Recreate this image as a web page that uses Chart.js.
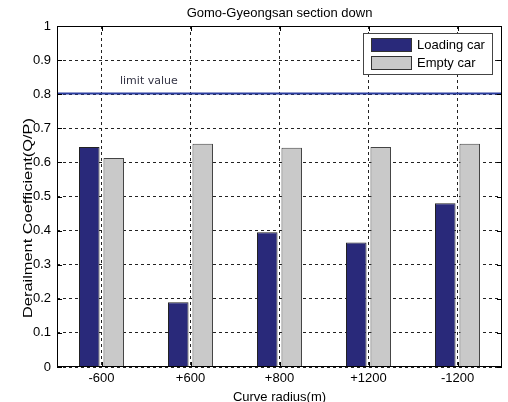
<!DOCTYPE html>
<html>
<head>
<meta charset="utf-8">
<script src="https://cdn.jsdelivr.net/npm/chart.js@4/dist/chart.umd.min.js"></script>
<style>
  html, body { margin: 0; padding: 0; background: #fff; }
  #wrap { width: 508px; height: 402px; }
</style>
</head>
<body>
<div id="wrap"><canvas id="c" width="508" height="402"></canvas></div>
<script>
// Derailment coefficient per curve radius, Gomo-Gyeongsan section (down line)
const categories = ['-600', '+600', '+800', '+1200', '-1200'];
const loadingCar = [0.645, 0.19, 0.395, 0.365, 0.48];
const emptyCar = [0.613, 0.655, 0.643, 0.645, 0.655];
const yTickValues = [0, 0.1, 0.2, 0.3, 0.4, 0.5, 0.6, 0.7, 0.8, 0.9, 1];
const yTickLabels = ['0', '0.1', '0.2', '0.3', '0.4', '0.5', '0.6', '0.7', '0.8', '0.9', '1'];
const LIMIT = 0.8;

const FONT = 'Liberation Sans, Arial, sans-serif';

const decorations = {
  id: 'decorations',
  afterDatasetsDraw(chart) {
    const { ctx, chartArea: a, scales: { x, y } } = chart;
    ctx.save();

    // limit line
    const ly = Math.round(y.getPixelForValue(LIMIT)) - 0.5;
    ctx.strokeStyle = '#2b3da0';
    ctx.lineWidth = 2;
    ctx.beginPath();
    ctx.moveTo(a.left, ly);
    ctx.lineTo(a.right, ly);
    ctx.stroke();
    ctx.fillStyle = '#333344';
    ctx.font = '11px "DejaVu Sans", Verdana, sans-serif';
    ctx.textAlign = 'left';
    ctx.textBaseline = 'alphabetic';
    ctx.fillText('limit value', 120, ly - 10);

    // axes box
    ctx.strokeStyle = '#000';
    ctx.lineWidth = 1;
    ctx.strokeRect(a.left + 0.5, a.top + 0.5, a.right - a.left - 1, a.bottom - a.top - 1);

    // inward tick marks
    ctx.beginPath();
    yTickValues.forEach(v => {
      const py = Math.round(y.getPixelForValue(v)) + 0.5;
      ctx.moveTo(a.left, py); ctx.lineTo(a.left + 5, py);
      ctx.moveTo(a.right, py); ctx.lineTo(a.right - 5, py);
    });
    categories.forEach((c, i) => {
      const px = Math.round(x.getPixelForValue(i)) + 0.5;
      ctx.moveTo(px, a.bottom); ctx.lineTo(px, a.bottom - 5);
      ctx.moveTo(px, a.top); ctx.lineTo(px, a.top + 5);
    });
    ctx.stroke();

    // legend
    const lx = 363, lyTop = 33, lw = 129, lh = 41;
    ctx.fillStyle = '#fff';
    ctx.fillRect(lx, lyTop, lw, lh);
    ctx.strokeStyle = '#444';
    ctx.strokeRect(lx + 0.5, lyTop + 0.5, lw, lh);
    chart.data.datasets.forEach((ds, i) => {
      const sy = 38 + i * 18;
      ctx.fillStyle = ds.backgroundColor;
      ctx.fillRect(371, sy, 41, 14);
      ctx.strokeStyle = '#333';
      ctx.strokeRect(371.5, sy + 0.5, 40, 13);
      ctx.fillStyle = '#000';
      ctx.font = '13px ' + FONT;
      ctx.textBaseline = 'middle';
      ctx.fillText(ds.label, 417, sy + 7);
    });

    // title and axis titles
    ctx.fillStyle = '#000';
    ctx.textAlign = 'center';
    ctx.textBaseline = 'alphabetic';
    ctx.font = '13px ' + FONT;
    ctx.fillText('Gomo-Gyeongsan section down', (a.left + a.right) / 2, 17);
    ctx.fillText('Curve radius(m)', (a.left + a.right) / 2, 401);
    const yTitle = 'Derailment Coefficient(Q/P)';
    ctx.save();
    ctx.translate(32, 218);
    ctx.rotate(-Math.PI / 2);
    const stretch = 200 / ctx.measureText(yTitle).width;
    ctx.scale(stretch, 1);
    ctx.fillText(yTitle, 0, 0);
    ctx.restore();

    ctx.restore();
  }
};

new Chart(document.getElementById('c'), {
  type: 'bar',
  data: {
    labels: categories,
    datasets: [
      {
        label: 'Loading car',
        data: loadingCar,
        backgroundColor: '#29297a',
        borderColor: '#222',
        borderWidth: 1,
        categoryPercentage: 0.55,
        barPercentage: 0.84
      },
      {
        label: 'Empty car',
        data: emptyCar,
        backgroundColor: '#c9c9c9',
        borderColor: '#444',
        borderWidth: 1,
        categoryPercentage: 0.55,
        barPercentage: 0.84
      }
    ]
  },
  options: {
    responsive: false,
    animation: false,
    devicePixelRatio: 1,
    layout: { padding: { top: 26, right: 6, left: 0, bottom: 0 } },
    plugins: {
      legend: { display: false },
      title: { display: false },
      tooltip: { enabled: false }
    },
    scales: {
      x: {
        offset: true,
        grid: { offset: false, color: '#222', lineWidth: 1, drawTicks: false },
        border: { display: false, dash: [3, 3] },
        ticks: { color: '#000', font: { family: FONT, size: 13 }, padding: 4 },
        afterFit: s => { s.height = 35; }
      },
      y: {
        min: 0,
        max: 1,
        grid: { color: '#222', lineWidth: 1, drawTicks: false },
        border: { display: false, dash: [3, 3] },
        afterBuildTicks: s => { s.ticks = yTickValues.map(v => ({ value: v })); },
        ticks: {
          color: '#000',
          font: { family: FONT, size: 13 },
          padding: 6,
          callback: (v) => yTickLabels[yTickValues.indexOf(v)] ?? String(v)
        },
        afterFit: s => { s.width = 57; }
      }
    }
  },
  plugins: [decorations]
});
</script>
</body>
</html>
